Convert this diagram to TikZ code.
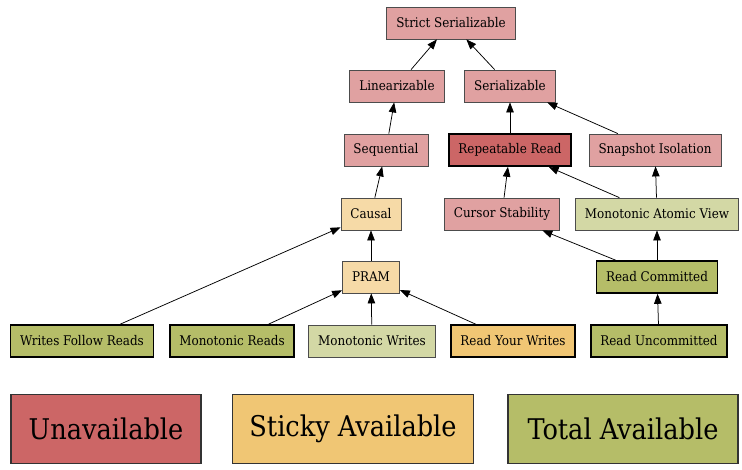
\documentclass[tikz,border=0pt]{standalone}
\usepackage{fontspec}
\setmainfont{DejaVu Serif Condensed}
\usetikzlibrary{arrows.meta}
\definecolor{Unavail}{HTML}{CC6666}
\definecolor{UnavailLight}{HTML}{E0A1A1}
\definecolor{Sticky}{HTML}{F0C674}
\definecolor{StickyLight}{HTML}{F6DAA7}
\definecolor{Total}{HTML}{B5BD68}
\definecolor{TotalLight}{HTML}{D3D8A5}
\tikzset{
  level/.style={draw=black!70, line width=0.8pt, minimum height=32pt, inner xsep=9.5pt,
    font=\fontsize{13.3}{15}\selectfont},
  strong/.style={level, draw=black, line width=1.6pt},
  edge/.style={-{Triangle[length=10pt,width=7.5pt]}, line width=0.75pt},
  legend/.style={draw=black!80, line width=1.5pt, minimum height=69pt,
    font=\fontsize{28.5}{32}\selectfont},
}

\begin{document}
\begin{tikzpicture}[x=1pt,y=-1pt]
        \useasboundingbox (0,0) rectangle (742,469);
        \node[level, fill=UnavailLight] (strict) at (451,23) {Strict Serializable};
        \node[level, fill=UnavailLight] (lin) at (397,86) {Linearizable};
        \node[level, fill=UnavailLight] (ser) at (510,86) {Serializable};
        \node[level, fill=UnavailLight] (seq) at (386,150) {Sequential};
        \node[strong, fill=Unavail] (rr) at (510,150) {Repeatable Read};
        \node[level, fill=UnavailLight] (si) at (655,150) {Snapshot Isolation};
        \node[level, fill=StickyLight] (causal) at (371,214) {Causal};
        \node[level, fill=UnavailLight] (cs) at (502,214) {Cursor Stability};
        \node[level, fill=TotalLight] (mav) at (657,214) {Monotonic Atomic View};
        \node[level, fill=StickyLight] (pram) at (371,277) {PRAM};
        \node[strong, fill=Total] (rc) at (657,277) {Read Committed};
        \node[strong, fill=Total] (wfr) at (82,341) {Writes Follow Reads};
        \node[strong, fill=Total] (mr) at (232,341) {Monotonic Reads};
        \node[level, fill=TotalLight] (mw) at (372,341) {Monotonic Writes};
        \node[strong, fill=Sticky] (ryw) at (513,341) {Read Your Writes};
        \node[strong, fill=Total] (ru) at (659,341) {Read Uncommitted};

        \draw[edge] (lin) -- (strict);
        \draw[edge] (ser) -- (strict);
        \draw[edge] (seq) -- (lin);
        \draw[edge] (rr) -- (ser);
        \draw[edge] (si) -- (ser);
        \draw[edge] (causal) -- (seq);
        \draw[edge] (cs) -- (rr);
        \draw[edge] (mav) -- (rr);
        \draw[edge] (mav) -- (si);
        \draw[edge] (pram) -- (causal);
        \draw[edge] (rc) -- (cs);
        \draw[edge] (rc) -- (mav);
        \draw[edge] (wfr) -- (causal);
        \draw[edge] (mr) -- (pram);
        \draw[edge] (mw) -- (pram);
        \draw[edge] (ryw) -- (pram);
        \draw[edge] (ru) -- (rc);

        \node[legend, fill=Unavail, minimum width=190pt] (unavail) at (106,429) {Unavailable};
        \node[legend, fill=Sticky, minimum width=241pt] (sticky) at (353,429) {Sticky Available};
        \node[legend, fill=Total, minimum width=230pt] (total) at (623,429) {Total Available};
      \end{tikzpicture}
\end{document}
